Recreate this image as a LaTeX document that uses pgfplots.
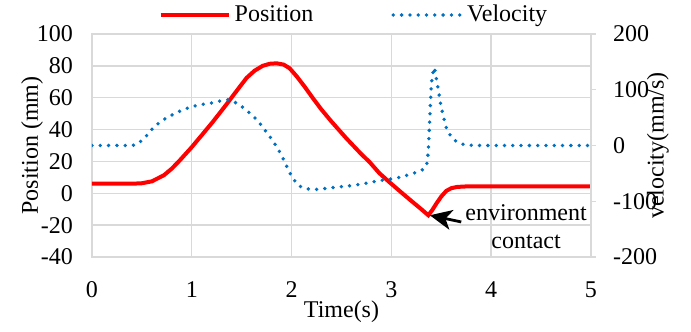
\documentclass[border=0pt]{standalone}
\usepackage{fontspec}
\setmainfont{Liberation Serif}
\usepackage{pgfplots}
\pgfplotsset{compat=1.18}
\usetikzlibrary{arrows.meta}

\definecolor{posred}{HTML}{FF0000}
\definecolor{velblue}{HTML}{0070C0}
\definecolor{gridgray}{HTML}{D9D9D9}

\newcommand{\chartfont}{\fontsize{12}{14}\selectfont}

\pgfplotsset{
  common/.style={
    width=249.5pt, height=111.5pt, scale only axis,
    at={(0,0)}, anchor=south west,
    xmin=0, xmax=5,
    /pgf/number format/assume math mode=true,
    tick label style={font=\chartfont},
    label style={font=\chartfont},
    axis line style={draw=gridgray, line width=0.7pt},
  },
  dotted line/.style={draw=velblue, line width=1.9pt, line cap=round,
    dash pattern=on 0pt off 4.15pt},
}

\begin{document}
\begin{tikzpicture}
\useasboundingbox (-46pt,-37.5pt) rectangle (299.5pt,128.5pt);

% Position, left axis
\begin{axis}[
  common,
  ymin=-40, ymax=100,
  ytick={-40,-20,...,100},
  xtick={0,1,...,5},
  grid=major,
  major grid style={draw=gridgray, line width=0.7pt},
  major tick length=0pt,
  xticklabel style={anchor=center, yshift=-16.5pt},
  yticklabel style={anchor=east, xshift=-6pt},
  xlabel={Time(s)},
  xlabel style={at={(axis description cs:0.5,0)}, anchor=center, yshift=-27.5pt},
  ylabel={Position (mm)},
  ylabel style={at={(axis description cs:-0.12,0.5)}, anchor=center},
  legend columns=2,
  legend style={draw=none, fill=none, font=\chartfont,
    at={(axis description cs:0.527,1)}, anchor=center, yshift=9.5pt,
    /tikz/every even column/.append style={column sep=37pt}},
  legend image code/.code={\draw[#1] (0pt,0pt) -- (34pt,0pt);},
]
\addplot[draw=posred, line width=2pt] coordinates {
  (0,6) (0.4,6) (0.5,6.3) (0.6,7.5) (0.72,11.3) (0.8,15.5) (0.88,20.7)
  (1.0,29) (1.1,36.5) (1.21,44.8) (1.3,52) (1.38,58.5) (1.47,66)
  (1.55,72.5) (1.63,77) (1.71,80) (1.78,81.3) (1.85,81.6) (1.92,80.8)
  (1.98,78.5) (2.05,73.5) (2.13,67) (2.21,60) (2.3,52.5) (2.4,45)
  (2.55,34.4) (2.7,24.5) (2.78,19.7) (2.88,12.6) (2.98,7) (3.1,0.5)
  (3.2,-4.8) (3.3,-10) (3.37,-13.8) (3.41,-10.5) (3.45,-6.5) (3.5,-2)
  (3.55,1.5) (3.6,3.2) (3.66,4) (3.75,4.3) (3.9,4.4) (5,4.4)
};
\addlegendentry{Position}
\addlegendimage{dotted line}
\addlegendentry{Velocity}

% contact annotation
\draw[-{Stealth[length=11pt, width=10pt, inset=3pt]}, line width=1.4pt, black]
  (axis cs:3.70,-18) -- (axis cs:3.385,-13.8);
\node[font=\chartfont, align=center, inner sep=0pt]
  at (axis cs:4.35,-20.8) {environment\\contact};
\end{axis}

% Velocity, right axis
\begin{axis}[
  common,
  ymin=-200, ymax=200,
  ytick={-200,-100,...,200},
  axis x line=none,
  axis y line*=right,
  tick align=outside,
  major tick length=2.5pt,
  tick style={draw=gridgray, line width=0.7pt},
  yticklabel style={anchor=west, xshift=5pt},
  ylabel={velocity(mm/s)},
  ylabel style={at={(axis description cs:1.134,0.5)}, anchor=center},
]
\addplot[dotted line] coordinates {
  (0,0) (0.4,0) (0.45,2) (0.52,12) (0.61,31) (0.68,42) (0.75,50) (0.86,60)
  (0.98,68.7) (1.08,73) (1.15,75) (1.22,77) (1.31,81) (1.36,82) (1.39,81)
  (1.46,75) (1.53,66) (1.6,55) (1.66,45) (1.71,33) (1.76,21) (1.81,9)
  (1.86,-5) (1.9,-18) (1.94,-33) (1.97,-45) (2.01,-58) (2.06,-70) (2.1,-75)
  (2.14,-77.5) (2.23,-79) (2.3,-78) (2.38,-76) (2.55,-73) (2.71,-69)
  (2.88,-63) (3.0,-60) (3.11,-56) (3.2,-51) (3.29,-46) (3.34,-40) (3.36,-30)
  (3.37,-8) (3.38,30) (3.39,70) (3.40,110) (3.42,135) (3.43,140) (3.45,120)
  (3.47,100) (3.49,78) (3.52,52) (3.55,32) (3.6,15) (3.66,6) (3.72,2)
  (3.8,0.5) (3.9,0) (5,0)
};
\end{axis}
\end{tikzpicture}
\end{document}
